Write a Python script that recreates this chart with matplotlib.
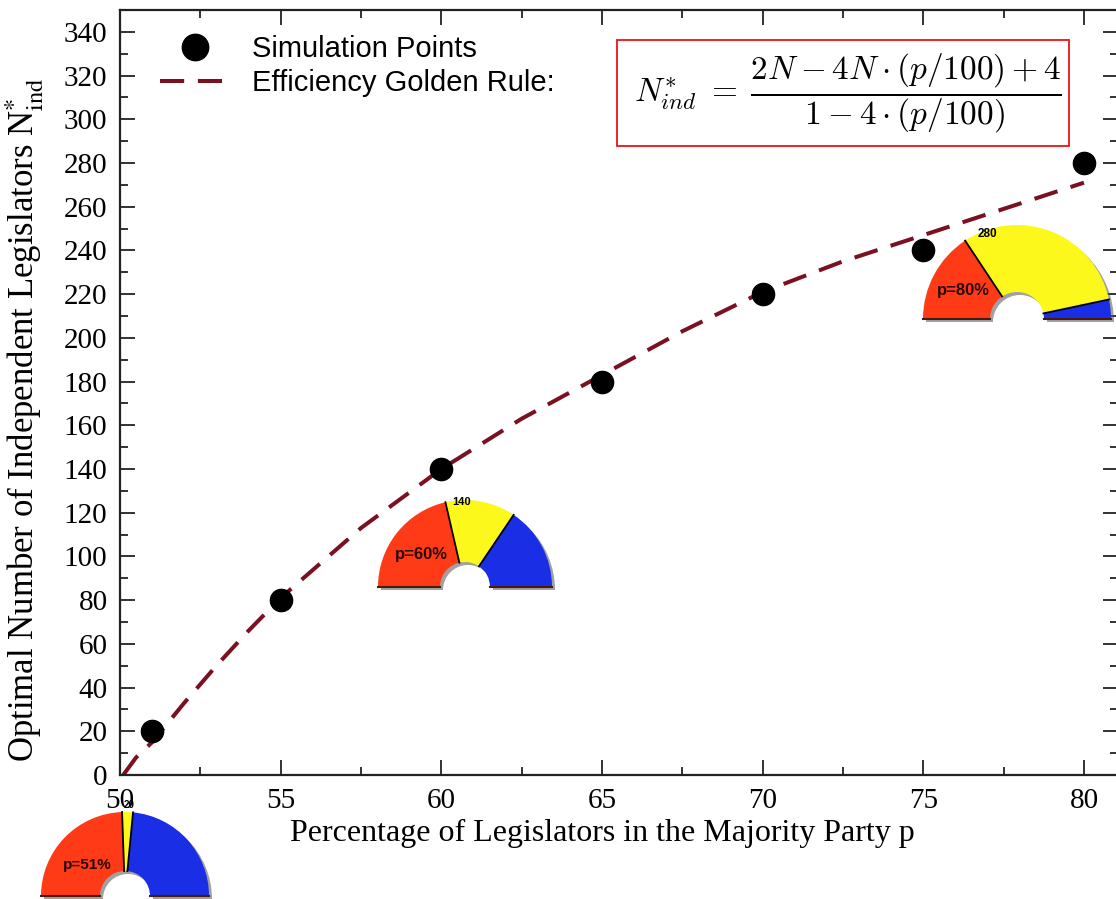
import math
import matplotlib
matplotlib.use('Agg')
import matplotlib.pyplot as plt
from matplotlib.patches import Wedge, Rectangle
from matplotlib.lines import Line2D
from matplotlib.ticker import MultipleLocator, FixedLocator

# ---------------- data ----------------
sim_p = [51, 55, 60, 65, 70, 75, 80]
sim_n = [20, 80, 140, 180, 220, 240, 280]
rule_p = [50.1, 50.5, 51, 52, 53, 54, 55, 57.5, 60, 62.5, 65, 67.5, 70, 72.5, 75, 77.5, 80]
rule_n = [0, 8, 15, 33, 50, 66, 81, 113, 140, 163, 183, 203, 221, 235, 247, 259, 271]
x_ticks = [50, 55, 60, 65, 70, 75, 80]
y_ticks = list(range(0, 341, 20))
legend_labels = ['Simulation Points', 'Efficiency Golden Rule:']
x_label = 'Percentage of Legislators in the Majority Party p'
y_label = r'Optimal Number of Independent Legislators N$_{\mathrm{ind}}^{*}$'
formula = r'$N^{*}_{ind} \;=\; \dfrac{2N - 4N\cdot(p/100) + 4}{1 - 4\cdot(p/100)}$'

icon_p_labels = ['p=51%', 'p=60%', 'p=80%']
icon_counts = ['20', '140', '280']
icon_red_yellow_deg = [92, 103, 123.5]
icon_yellow_blue_deg = [84.5, 56, 12]

# ---------------- figure ----------------
W, H = 1116, 899
plt.rcParams['font.family'] = ['Liberation Serif', 'DejaVu Serif']
fig = plt.figure(figsize=(W / 100, H / 100), dpi=100)
fig.patch.set_facecolor('white')

ax = fig.add_axes([120 / W, 1 - 775 / H, (1118 - 120) / W, (775 - 10) / H])
ax.set_xlim(50, 81.06)
ax.set_ylim(0, 350)

line_color = '#7a1020'
ax.plot(rule_p, rule_n, color=line_color, lw=2.9, dashes=(6, 3.4), zorder=2)
ax.plot(sim_p, sim_n, 'o', color='black', ms=16, zorder=3)

ax.xaxis.set_major_locator(FixedLocator(x_ticks))
ax.yaxis.set_major_locator(FixedLocator(y_ticks))
ax.xaxis.set_minor_locator(MultipleLocator(2.5))
ax.yaxis.set_minor_locator(MultipleLocator(10))
ax.tick_params(which='both', direction='in', top=True, right=True, width=1.3, color='#222222')
ax.tick_params(which='major', length=11, labelsize=21, pad=9)
ax.tick_params(which='minor', length=6)
for s in ax.spines.values():
    s.set_linewidth(1.6)
    s.set_color('#222222')

ax.set_xlabel(x_label, fontsize=23)
ax.xaxis.set_label_coords((602 - 120) / 998, (775 - 819) / 765)
ax.set_ylabel(y_label, fontsize=25, math_fontfamily='stix')
ax.yaxis.set_label_coords((46 - 120) / 998, (775 - 420) / 765)

handles = [Line2D([], [], marker='o', color='black', ls='none', ms=19),
           Line2D([], [], color=line_color, lw=2.9, dashes=(6, 3.4))]
ax.legend(handles, legend_labels, loc='upper left',
          bbox_to_anchor=((160 - 120) / 998, (775 - 35) / 765),
          frameon=False, borderpad=0, borderaxespad=0,
          handlelength=2.4, handletextpad=0.75, labelspacing=0.2,
          prop={'family': 'Liberation Sans', 'size': 21})

# ---------------- overlay (pixel coordinates) ----------------
ov = fig.add_axes([0, 0, 1, 1], zorder=5)
ov.set_xlim(0, W)
ov.set_ylim(0, H)
ov.axis('off')


def Y(py):
    return H - py


# formula box
ov.add_patch(Rectangle((617, Y(146)), 452, 106, facecolor='white',
                       edgecolor='#ee1111', lw=1.3))
ov.text(848, Y(93), formula, ha='center', va='center', fontsize=24,
        math_fontfamily='cm')

# parliament icons
RED, YEL, BLU = '#ff3a17', '#fcf81c', '#1a2ee6'
icon_layout = [
    dict(c=(125, 896), r=84, ri=25, pl=(87, 865), ps=11, cl=(129, 805), cs=7),
    dict(c=(465, 587), r=87, ri=25, pl=(421, 555), ps=12, cl=(462, 502), cs=8),
    dict(c=(1017, 319), r=94, ri=27, pl=(963, 291), ps=12, cl=(987, 234), cs=8.5),
]
for lay, plab, cnt, a_ry, a_yb in zip(icon_layout, icon_p_labels, icon_counts,
                                      icon_red_yellow_deg, icon_yellow_blue_deg):
    cx, cy = lay['c'][0], Y(lay['c'][1])
    r, ri = lay['r'], lay['ri']
    w = r - ri
    # shadow
    ov.add_patch(Wedge((cx + 3, cy - 3), r, 0, 180, width=w, facecolor='#555555',
                       alpha=0.55, lw=0))
    ov.add_patch(Wedge((cx, cy), r, a_ry, 180, width=w, facecolor=RED, lw=0))
    ov.add_patch(Wedge((cx, cy), r, a_yb, a_ry, width=w, facecolor=YEL, lw=0))
    ov.add_patch(Wedge((cx, cy), r, 0, a_yb, width=w, facecolor=BLU, lw=0))
    # dark base line
    ov.plot([cx - r, cx - ri], [cy, cy], color='#4a1a08', lw=1.5)
    ov.plot([cx + ri, cx + r], [cy, cy], color='#4a1a08', lw=1.5)
    for a in (a_ry, a_yb):
        t = math.radians(a)
        ov.plot([cx + ri * math.cos(t), cx + r * math.cos(t)],
                [cy + ri * math.sin(t), cy + r * math.sin(t)],
                color='black', lw=1.3)
    ov.text(lay['pl'][0], Y(lay['pl'][1]), plab, ha='center', va='center',
            fontsize=lay['ps'], fontweight='bold', family='Liberation Sans',
            color='#2a0800')
    ov.text(lay['cl'][0], Y(lay['cl'][1]), cnt, ha='center', va='center',
            fontsize=lay['cs'], fontweight='bold', family='Liberation Sans',
            color='black')

fig.savefig('out.png', dpi=100, facecolor='white')
